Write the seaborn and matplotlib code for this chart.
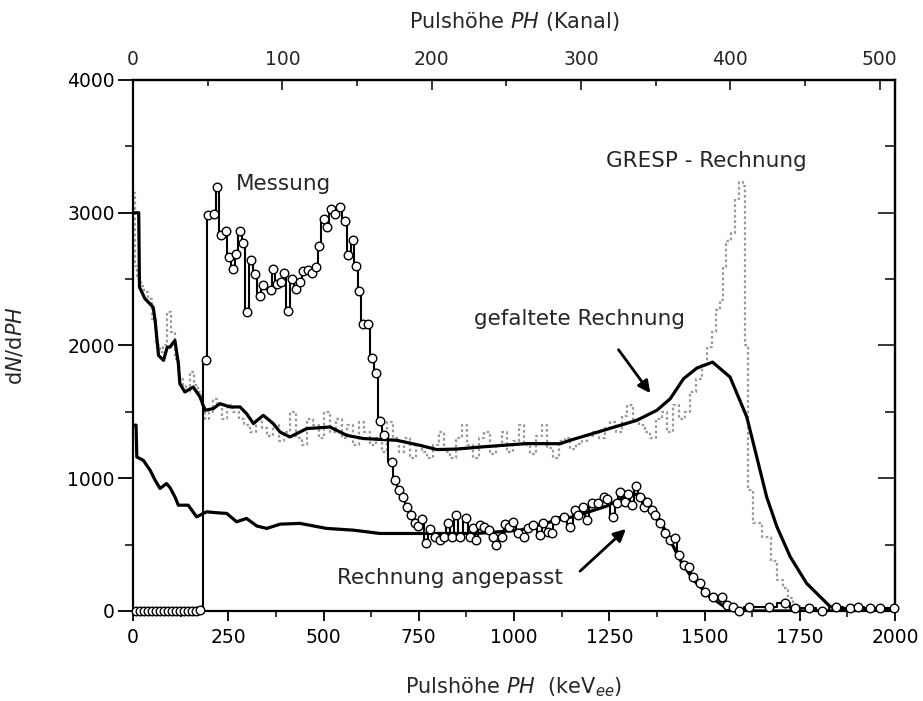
import numpy as np
import pandas as pd
import matplotlib
matplotlib.use("Agg")
import matplotlib.pyplot as plt
import seaborn as sns

# ---------------- data ----------------
# Messung (measured spectrum, circles + step line)
mess_kev = [8, 18, 29, 39, 50, 60, 71, 81, 92, 102, 113, 123, 134, 144, 155, 165, 176,
            192, 198, 213, 221, 231, 243, 252, 263, 270, 281, 290, 298, 310, 320, 332, 342,
            361, 368, 377, 388, 397, 407, 416, 428, 438, 447, 458, 469, 480, 489, 500, 510,
            520, 530, 543, 556, 565, 577, 585, 594, 603, 618, 628, 638, 648, 659, 679, 688,
            699, 708, 719, 729, 740, 749, 758, 769, 780, 793, 806, 816, 828, 837, 847, 858,
            874, 885, 893, 900, 911, 921, 935, 946, 954, 968, 977, 988, 997, 1011, 1025,
            1038, 1051, 1068, 1077, 1090, 1099, 1108, 1130, 1147, 1160, 1169, 1182, 1191,
            1204, 1221, 1235, 1243, 1259, 1270, 1278, 1291, 1300, 1309, 1320, 1330, 1340,
            1348, 1362, 1370, 1383, 1397, 1410, 1423, 1432, 1445, 1458, 1471, 1488, 1502,
            1523, 1545, 1558, 1576, 1591, 1617, 1669, 1712, 1738, 1774, 1809, 1844, 1882,
            1904, 1935, 1961, 1996]
mess_val = [0, 0, 0, 0, 0, 0, 0, 0, 0, 0, 0, 0, 0, 0, 0, 0, 10,
            1893, 2985, 2990, 3196, 2833, 2865, 2664, 2577, 2690, 2865, 2770, 2256, 2645, 2540, 2376, 2452,
            2419, 2577, 2464, 2477, 2544, 2263, 2502, 2427, 2477, 2564, 2570, 2544, 2594, 2752, 2953, 2895,
            3028, 2990, 3046, 2935, 2682, 2797, 2597, 2414, 2163, 2163, 1905, 1792, 1431, 1323, 1123, 985,
            915, 855, 780, 722, 664, 639, 690, 514, 617, 559, 534, 559, 664, 559, 722, 559,
            697, 559, 622, 534, 647, 634, 609, 559, 496, 554, 654, 629, 672, 584, 554,
            622, 647, 572, 664, 596, 584, 684, 709, 634, 760, 722, 785, 684,
            810, 810, 860, 840, 709, 810, 897, 822, 885, 797, 940, 860, 785,
            822, 760, 722, 660, 584, 534, 547, 421, 346, 329, 258, 208, 145,
            108, 108, 45, 32, 0, 32, 32, 57, 20, 20, 0, 28, 20,
            32, 20, 20, 20]

# gefaltete Rechnung (upper thick line)
gef_kev = [0, 15, 17, 31, 53, 58, 67, 80, 90, 97, 110, 119, 123, 136, 158, 176, 189, 211,
           228, 255, 281, 298, 316, 342, 368, 386, 412, 456, 517, 561, 605, 692, 753, 797,
           850, 911, 1033, 1121, 1147, 1235, 1322, 1375, 1410, 1445, 1480, 1521, 1567,
           1611, 1637, 1663, 1690, 1725, 1768, 1830, 1882, 2000]
gef_val = [3000, 3000, 2440, 2354, 2288, 2188, 1925, 1888, 1988, 1988, 2038, 1863, 1712, 1650,
           1687, 1612, 1512, 1525, 1562, 1537, 1537, 1487, 1412, 1474, 1412, 1348, 1311, 1374,
           1386, 1323, 1299, 1286, 1248, 1216, 1220, 1235, 1261, 1260, 1286, 1361, 1436, 1512,
           1599, 1750, 1830, 1875, 1762, 1461, 1161, 860, 634, 408, 208, 32, 8, 0]

# Rechnung angepasst (lower thick line)
ang_kev = [0, 8, 10, 27, 45, 58, 71, 88, 97, 110, 119, 145, 167, 193, 220, 246, 272, 298,
           325, 351, 386, 438, 508, 578, 648, 753, 902, 1016, 1068, 1121, 1156, 1200, 1243,
           1290, 1313, 1340, 1375, 1401, 1436, 1471, 1515, 1558, 1600, 2000]
ang_val = [1400, 1400, 1160, 1135, 1060, 985, 923, 960, 930, 860, 797, 797, 709, 747, 740,
           735, 672, 697, 640, 622, 654, 660, 622, 609, 584, 584, 584, 609, 650, 690, 710,
           750, 790, 860, 885, 860, 722, 584, 384, 233, 108, 20, 0, 0]

# GRESP - Rechnung (grey dotted step line)
gresp_kev = [0, 8, 15, 25, 35, 45, 55, 65, 75, 85, 95, 105, 115, 125, 135, 145, 155, 165,
             175, 185, 195, 205, 215, 225, 240, 255, 270, 285, 300, 315, 330, 345, 360, 375,
             390, 405, 420, 435, 450, 465, 480, 495, 510, 525, 540, 555, 570, 585, 600, 615,
             630, 645, 660, 675, 690, 705, 720, 735, 750, 765, 780, 795, 810, 825, 840, 855,
             870, 885, 900, 915, 930, 945, 960, 975, 990, 1005, 1020, 1035, 1050, 1065, 1080,
             1095, 1110, 1125, 1140, 1155, 1170, 1185, 1200, 1215, 1230, 1245, 1260, 1275,
             1290, 1305, 1320, 1335, 1350, 1365, 1380, 1395, 1410, 1425, 1440, 1455, 1470,
             1485, 1500, 1515, 1525, 1535, 1545, 1550, 1563, 1576, 1585, 1595, 1605, 1610,
             1620, 1637, 1663, 1685, 1698, 1712, 1725, 1740, 1760, 1800, 2000]
gresp_val = [3150, 2600, 2500, 2450, 2400, 2350, 2200, 2000, 1950, 2000, 2250, 2100, 1900,
             1750, 1700, 1650, 1800, 1700, 1650, 1550, 1450, 1500, 1600, 1550, 1450, 1550,
             1500, 1450, 1400, 1350, 1450, 1380, 1320, 1400, 1280, 1350, 1500, 1300, 1250,
             1450, 1400, 1300, 1500, 1350, 1450, 1300, 1400, 1250, 1420, 1350, 1250, 1300,
             1200, 1420, 1300, 1200, 1300, 1150, 1250, 1200, 1150, 1250, 1350, 1200, 1150,
             1300, 1400, 1250, 1150, 1300, 1350, 1180, 1250, 1350, 1200, 1280, 1400, 1250,
             1180, 1320, 1400, 1230, 1150, 1280, 1300, 1220, 1260, 1280, 1320, 1350, 1300,
             1380, 1420, 1350, 1470, 1550, 1450, 1400, 1350, 1300, 1450, 1500, 1350, 1550,
             1450, 1500, 1650, 1750, 1850, 1990, 2100, 2270, 2340, 2590, 2790, 2850, 3100,
             3230, 3200, 2000, 910, 660, 560, 380, 230, 170, 95, 40, 10, 0, 0]

x_ticks = [0, 250, 500, 750, 1000, 1250, 1500, 1750, 2000]
y_ticks = [0, 1000, 2000, 3000, 4000]
ch_ticks = [0, 100, 200, 300, 400, 500]
kev_per_channel = 3.92

# ---------------- figure ----------------
sns.set_theme(style="ticks")
plt.rcParams["font.family"] = ["DejaVu Sans"]
plt.rcParams["mathtext.fontset"] = "dejavusans"

fig = plt.figure(figsize=(9.23, 7.01), dpi=100)
ax = fig.add_axes([0.1441, 0.1284, 0.8256, 0.7575])

mess = pd.DataFrame({"keV": mess_kev, "N": mess_val})
gef = pd.DataFrame({"keV": gef_kev, "N": gef_val})
ang = pd.DataFrame({"keV": ang_kev, "N": ang_val})
gresp = pd.DataFrame({"keV": gresp_kev, "N": gresp_val})

sns.lineplot(data=gresp, x="keV", y="N", ax=ax, color="#9a9a9a", lw=1.6,
             linestyle=(0, (1.2, 1.2)), drawstyle="steps-mid", estimator=None,
             sort=False, legend=False, zorder=2)
sns.lineplot(data=gef, x="keV", y="N", ax=ax, color="black", lw=2.3,
             estimator=None, sort=False, legend=False, zorder=3)
sns.lineplot(data=ang, x="keV", y="N", ax=ax, color="black", lw=2.3,
             estimator=None, sort=False, legend=False, zorder=3)
sns.lineplot(data=mess, x="keV", y="N", ax=ax, color="black", lw=1.5,
             drawstyle="steps-mid", estimator=None, sort=False, legend=False, zorder=4)
sns.scatterplot(data=mess, x="keV", y="N", ax=ax, marker="o", s=38, color="white",
                edgecolor="black", linewidth=1.0, zorder=5, legend=False, clip_on=False)

ax.set_xlim(0, 2000)
ax.set_ylim(0, 4000)
ax.set_xticks(x_ticks)
ax.set_xticks(np.arange(0, 2001, 125), minor=True)
ax.set_yticks(y_ticks)
ax.set_yticks(np.arange(0, 4001, 500), minor=True)
ax.tick_params(axis="both", which="major", direction="out", labelsize=13.5,
               length=7, width=1.3, colors="black")
ax.tick_params(axis="both", which="minor", direction="out", length=4, width=1.3)
ax.tick_params(axis="x", pad=5)
ax.tick_params(axis="y", which="major", length=11, pad=2)
ax.tick_params(axis="y", which="minor", length=6)
for sp in ax.spines.values():
    sp.set_visible(True)
    sp.set_linewidth(1.6)
    sp.set_color("black")

ax.set_xlabel("Pulshöhe $\\mathit{PH}$  (keV$_{\\mathit{ee}}$)", fontsize=15, labelpad=21)
ax.set_ylabel("d$\\mathit{N}$/d$\\mathit{PH}$", fontsize=15, labelpad=30)

# right axis: inward ticks, no labels
sec_r = ax.secondary_yaxis("right")
sec_r.set_yticks(y_ticks)
sec_r.set_yticks(np.arange(0, 4001, 500), minor=True)
sec_r.tick_params(which="major", direction="in", length=12, width=1.3, labelright=False)
sec_r.tick_params(which="minor", direction="in", length=7, width=1.3)
sec_r.spines["right"].set_linewidth(1.6)

# top axis in channels
sec_t = ax.secondary_xaxis("top", functions=(lambda k: np.asarray(k) / kev_per_channel,
                                             lambda c: np.asarray(c) * kev_per_channel))
sec_t.set_xticks(ch_ticks)
sec_t.set_xticks(np.arange(0, 501, 50), minor=True)
sec_t.tick_params(which="major", direction="in", length=7, width=1.3, labelsize=13.5, pad=8)
sec_t.tick_params(which="minor", direction="in", length=4, width=1.3)
sec_t.spines["top"].set_linewidth(1.6)
sec_t.set_xlabel("Pulshöhe $\\mathit{PH}$ (Kanal)", fontsize=15, labelpad=16)

# annotations
ax.text(394, 3219, "Messung", fontsize=15.5, ha="center", va="center")
ax.text(1504, 3392, "GRESP - Rechnung", fontsize=15.5, ha="center", va="center")
ax.text(1173, 2203, "gefaltete Rechnung", fontsize=15.5, ha="center", va="center")
ax.text(832, 248, "Rechnung angepasst", fontsize=15.5, ha="center", va="center")
ax.annotate("", xy=(1362, 1624), xytext=(1270, 1985),
            arrowprops=dict(arrowstyle="-|>", color="black", lw=2.0, mutation_scale=18))
ax.annotate("", xy=(1299, 632), xytext=(1168, 286),
            arrowprops=dict(arrowstyle="-|>", color="black", lw=2.0, mutation_scale=18))

fig.savefig("out.png", dpi=100)
